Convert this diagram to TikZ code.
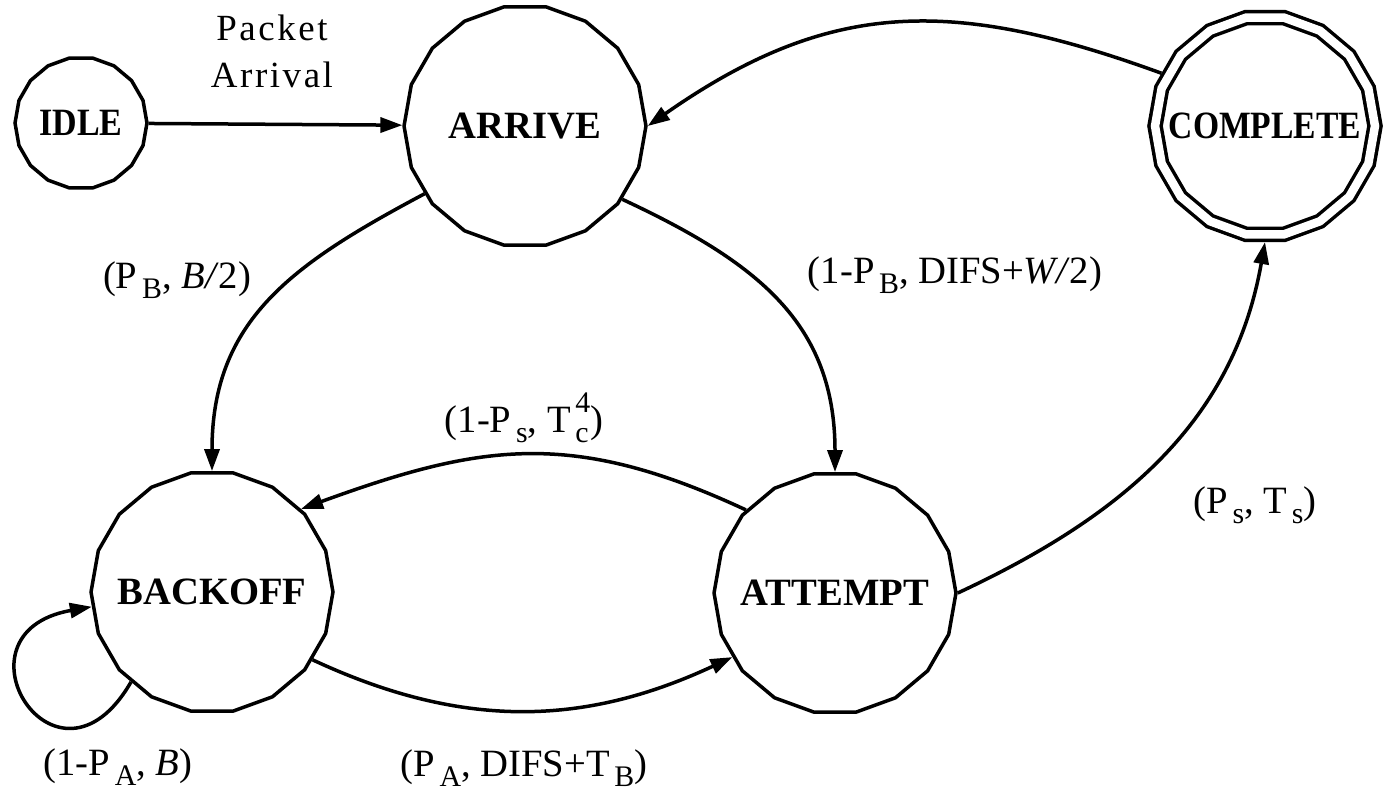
\documentclass[tikz,border=0pt]{standalone}
\usepackage{fontspec}
\setmainfont{Liberation Serif}
\usetikzlibrary{shapes.geometric,arrows.meta}

% lowered index and stacked index/exponent, as set in the labels
\newcommand\subtxt[1]{\hspace{0.12em}\raisebox{-0.27em}{\fontsize{17}{18}\selectfont #1}}
\newcommand\subsuptxt[2]{\hspace{0.12em}\rlap{\raisebox{-0.27em}{\fontsize{17}{18}\selectfont #1}}\raisebox{0.5em}{\fontsize{17}{18}\selectfont #2}}
% state names are centred without widening the polygon
\newcommand\statename[2][1]{\makebox[0pt]{\scalebox{#1}[1]{#2}}}

\begin{document}
\begin{tikzpicture}[x=0.02cm, y=0.02cm, line width=0.07cm,
  state/.style={draw, regular polygon, regular polygon sides=18, inner sep=0pt,
    minimum size=4.84cm, font=\fontsize{22}{26}\selectfont\bfseries},
  small state/.style={state, minimum size=2.64cm},
  final state/.style={state, minimum size=4.4cm, double, double distance=0.17cm, outer sep=0.155cm},
  link/.style={-{Triangle[length=0.44cm,width=0.3cm]}},
  lbl/.style={font=\fontsize{22}{26.7}\selectfont, inner sep=0pt, anchor=base}]
\useasboundingbox (0,0) rectangle (1389,-795);

% states
\node[small state] (idle) at (81,-123) {\statename[0.88]{IDLE}};
\node[state] (arrive) at (525,-126) {\statename{ARRIVE}};
\node[final state] (complete) at (1265,-126) {\statename[0.87]{COMPLETE}};
\node[state] (backoff) at (212,-592) {\statename{BACKOFF}};
\node[state] (attempt) at (835,-593) {\statename{ATTEMPT}};

% transitions
\draw[link] (idle) -- (arrive);
\draw[link] (complete.153) to[out=160,in=35,looseness=1.1] (arrive.east);
\draw[link] (arrive.-146) to[out=-152,in=90,looseness=1.1] (backoff.north);
\draw[link] (arrive.-37) to[out=-25,in=90,looseness=1.1] (attempt.north);
\draw[link] (attempt.137) to[out=155,in=20,looseness=1.1] (backoff.43);
\draw[link] (backoff.-34) to[out=-25,in=-155] (attempt.-148);
\draw[link] (attempt.east) to[out=25,in=-100] (complete.south);
\draw[link] (backoff.-132) to[out=-120,in=190,looseness=4.5] (backoff.187);

% transition labels
\node[lbl, align=center, font=\fontsize{21}{26.7}\selectfont\addfontfeature{LetterSpace=7}] (arrival) at (272,-87) {Packet\\Arrival};
\node[lbl] (lpb) at (177,-288) {(P\subtxt{B}, \textit{B/}2)};
\node[lbl] (lnpb) at (955,-283) {(1-P\subtxt{B}, DIFS+\textit{W/}2)};
\node[lbl] (lnps) at (524,-432) {(1-P\subtxt{s}, T\subsuptxt{c}{4})};
\node[lbl] (lps) at (1255,-513) {(P\subtxt{s}, T\subtxt{s})};
\node[lbl] (lnpa) at (118,-775) {(1-P\subtxt{A}, \textit{B})};
\node[lbl] (lpa) at (524,-776) {(P\subtxt{A}, DIFS+T\subtxt{B})};
\end{tikzpicture}
\end{document}
